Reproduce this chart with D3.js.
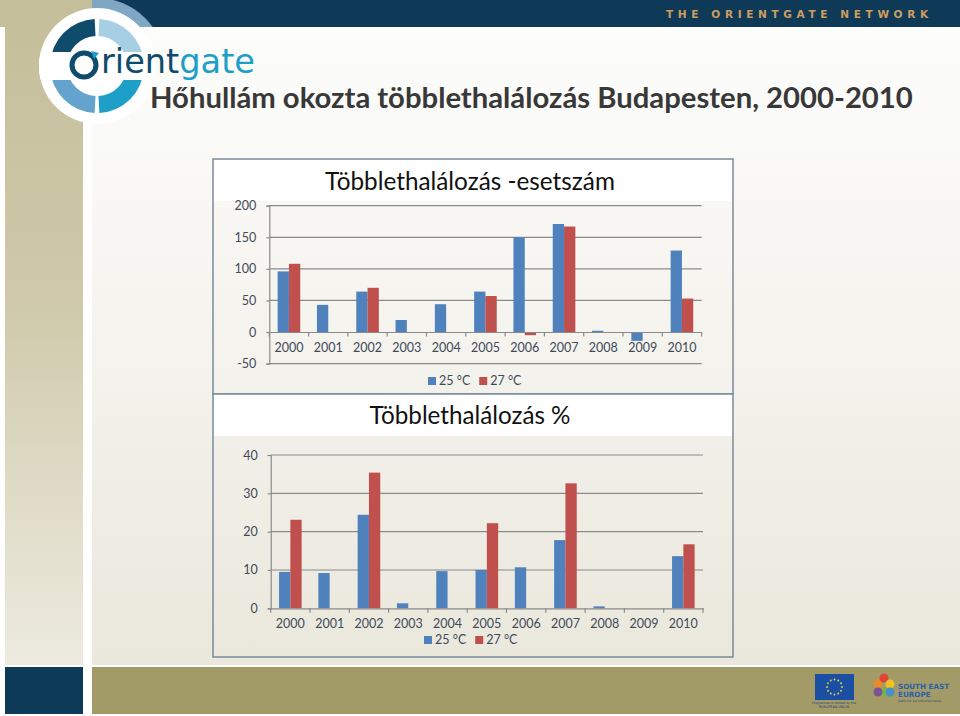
<!DOCTYPE html>
<html>
<head>
<meta charset="utf-8">
<script src="https://cdn.jsdelivr.net/npm/d3@7"></script>
<style>
html,body{margin:0;padding:0;background:#fff;}
svg{display:block;}
</style>
</head>
<body>
<svg id="c" width="960" height="716"></svg>
<script>
// ---------- DATA ----------
const years = ["2000","2001","2002","2003","2004","2005","2006","2007","2008","2009","2010"];
const seriesNames = ["25 °C","27 °C"];
const cases25 = [96, 43, 64, 19, 44, 64, 150, 171, 2, -14, 129];
const cases27 = [108, null, 70, null, null, 57, -5, 167, null, null, 53];
const pct25 = [9.5, 9.2, 24.4, 1.3, 9.7, 10.0, 10.7, 17.8, 0.5, null, 13.6];
const pct27 = [23.1, null, 35.4, null, null, 22.2, null, 32.6, null, null, 16.7];
const ticksCases = [-50, 0, 50, 100, 150, 200];
const ticksPct = [0, 10, 20, 30, 40];
const mainTitle = "Hőhullám okozta többlethalálozás Budapesten, 2000-2010";
const title1 = "Többlethalálozás -esetszám";
const title2 = "Többlethalálozás %";
const network = "THE ORIENTGATE NETWORK";

const COLORS = ["#4f81bd", "#c0504d"];
const FONT = "Lato, 'Open Sans', sans-serif";

const svg = d3.select("#c");
const defs = svg.append("defs");

function fitText(sel, width) {
  const fs = parseFloat(sel.attr("font-size"));
  const w = sel.node().getComputedTextLength();
  sel.attr("font-size", (fs * width / w).toFixed(2));
}

// ---------- BACKGROUND ----------
const gBg = defs.append("linearGradient").attr("id","bg").attr("x1",0).attr("y1",0).attr("x2",0).attr("y2",1);
gBg.append("stop").attr("offset","0%").attr("stop-color","#fdfdfc");
gBg.append("stop").attr("offset","45%").attr("stop-color","#f5f4ef");
gBg.append("stop").attr("offset","100%").attr("stop-color","#eae8dc");
const gStrip = defs.append("linearGradient").attr("id","strip").attr("x1",0).attr("y1",0).attr("x2",0).attr("y2",1);
gStrip.append("stop").attr("offset","0%").attr("stop-color","#c5be9a");
gStrip.append("stop").attr("offset","45%").attr("stop-color","#cfc9aa");
gStrip.append("stop").attr("offset","100%").attr("stop-color","#edebe0");

svg.append("rect").attr("x",0).attr("y",0).attr("width",960).attr("height",716).attr("fill","#ffffff");
svg.append("rect").attr("x",92).attr("y",27).attr("width",868).attr("height",638).attr("fill","url(#bg)");
svg.append("rect").attr("x",5).attr("y",0).attr("width",78).attr("height",665).attr("fill","url(#strip)");
svg.append("rect").attr("x",0).attr("y",0).attr("width",92).attr("height",27).attr("fill","#c5be9a");
svg.append("rect").attr("x",92).attr("y",0).attr("width",868).attr("height",27).attr("fill","#0e3a58");

// bottom bars
svg.append("rect").attr("x",5).attr("y",667).attr("width",78).attr("height",47).attr("fill","#0d3a57");
svg.append("rect").attr("x",92).attr("y",667).attr("width",868).attr("height",47).attr("fill","#a29b68");

// network text
const nt = svg.append("text").attr("x",666).attr("y",18).attr("font-family","'DejaVu Sans', sans-serif")
  .attr("font-weight","bold").attr("font-size",10.5).attr("letter-spacing","0px")
  .attr("fill","#d09d5e").text(network);
{
  const w0 = nt.node().getComputedTextLength();
  const ls = (262 - w0) / (network.length - 1);
  nt.attr("letter-spacing", ls.toFixed(2) + "px");
}

// ---------- LOGO ----------
const cx = 97, cy = 66;
defs.append("clipPath").attr("id","bandclip").append("rect").attr("x",92).attr("y",0).attr("width",100).attr("height",27);
svg.append("circle").attr("cx",cx).attr("cy",cy).attr("r",68).attr("fill","#7fa6c2").attr("clip-path","url(#bandclip)");
svg.append("circle").attr("cx",cx).attr("cy",cy).attr("r",58).attr("fill","#ffffff");
const arc = d3.arc().innerRadius(30).outerRadius(47);
const quads = [
  {a0:-Math.PI/2, a1:0, c:"#0f4c6c"},
  {a0:0, a1:Math.PI/2, c:"#a6cfe4"},
  {a0:Math.PI/2, a1:Math.PI, c:"#1d9fc7"},
  {a0:Math.PI, a1:1.5*Math.PI, c:"#63a3cd"}
];
const lg = svg.append("g").attr("transform",`translate(${cx},${cy})`);
quads.forEach(q => {
  lg.append("path").attr("d", arc({startAngle:q.a0+0.05, endAngle:q.a1-0.05})).attr("fill", q.c);
});
defs.append("clipPath").attr("id","logoclip").append("circle").attr("cx",cx).attr("cy",cy).attr("r",58);
svg.append("rect").attr("x",cx-60).attr("y",52).attr("width",120).attr("height",28)
  .attr("fill","#ffffff").attr("clip-path","url(#logoclip)");
// "O" ring with arrow
svg.append("circle").attr("cx",84).attr("cy",65).attr("r",12).attr("fill","none").attr("stroke","#0f4c6c").attr("stroke-width",5);
svg.append("path").attr("d","M 91 51 L 99 53 L 94 59 Z").attr("fill","#1d9fc7");
const logoT = svg.append("text").attr("x",101).attr("y",73).attr("font-family","'DejaVu Sans', sans-serif")
  .attr("font-size",26);
logoT.append("tspan").attr("fill","#0f4c6c").text("rient");
logoT.append("tspan").attr("fill","#1d9fc7").text("gate");
fitText(logoT, 154);

// main title
const mt = svg.append("text").attr("x",150).attr("y",108).attr("font-family",FONT)
  .attr("font-weight","bold").attr("font-size",26).attr("fill","#383838").text(mainTitle);
fitText(mt, 763);

// ---------- FOOTER LOGOS ----------
svg.append("rect").attr("x",815).attr("y",674).attr("width",39).attr("height",26).attr("fill","#1b4fa3");
const starR = 7.5;
d3.range(12).forEach(i => {
  const a = i/12*2*Math.PI;
  svg.append("circle").attr("cx",834.5+starR*Math.cos(a)).attr("cy",687+starR*Math.sin(a)).attr("r",0.9).attr("fill","#f5d33a");
});
svg.append("text").attr("x",834).attr("y",704).attr("text-anchor","middle").attr("font-family","'DejaVu Sans'")
  .attr("font-size",3).attr("fill","#1b3f7a").text("Programme co-funded by the");
svg.append("text").attr("x",834).attr("y",708).attr("text-anchor","middle").attr("font-family","'DejaVu Sans'")
  .attr("font-size",3.3).attr("fill","#1b3f7a").text("EUROPEAN UNION");
const petals = [["#f08a24",878,684],["#e53b2f",884,678],["#f7c519",890,684],["#7ab648",884,692],["#7a4b9a",878,692],["#3d8fd1",890,692]];
petals.forEach(p => svg.append("circle").attr("cx",p[1]).attr("cy",p[2]).attr("r",4.5).attr("fill",p[0]).attr("opacity",0.9));
svg.append("text").attr("x",898).attr("y",689).attr("font-family","'DejaVu Sans'").attr("font-weight","bold")
  .attr("font-size",7.2).attr("fill","#2b5fa8").text("SOUTH EAST");
svg.append("text").attr("x",898).attr("y",697).attr("font-family","'DejaVu Sans'").attr("font-weight","bold")
  .attr("font-size",7.2).attr("fill","#2b5fa8").text("EUROPE");
svg.append("text").attr("x",898).attr("y",702).attr("font-family","'DejaVu Sans'")
  .attr("font-size",3).attr("fill","#2b3f6a").text("paths for our common future");

// ---------- CHARTS ----------
function drawChart(cfg) {
  const g = svg.append("g");
  g.append("rect").attr("x",cfg.bx+1).attr("y",cfg.by).attr("width",cfg.bw-1).attr("height",cfg.titleH).attr("fill","#ffffff");
  g.append("rect").attr("x",cfg.bx).attr("y",cfg.by).attr("width",cfg.bw).attr("height",cfg.bh)
    .attr("fill","none").attr("stroke","#7b8a9a").attr("stroke-width",1.5);
  const t = g.append("text").attr("x",cfg.titleX).attr("y",cfg.titleY).attr("text-anchor","middle")
    .attr("font-family",FONT).attr("font-size",22).attr("fill","#111").text(cfg.title);
  fitText(t, cfg.titleW);

  const y = d3.scaleLinear().domain(cfg.yDomain).range(cfg.yRange);
  const x = d3.scaleBand().domain(years).range(cfg.xRange).paddingInner(0).paddingOuter(0);
  // two-bar group occupies the middle 57.5% of each category
  const grp = d3.scaleBand().domain([0,1]).range([x.bandwidth()*0.2125, x.bandwidth()*0.7875]);

  cfg.ticks.filter(v => v !== 0).forEach(v => {
    g.append("line").attr("x1",cfg.xRange[0]).attr("x2",cfg.xRange[1]).attr("y1",y(v)).attr("y2",y(v))
      .attr("stroke","#8a8a8a").attr("stroke-width",1.2);
  });

  [cfg.s1, cfg.s2].forEach((s, si) => {
    g.selectAll(null).data(years.map((yr,i)=>({yr, v:s[i]})).filter(d => d.v !== null))
      .enter().append("rect")
      .attr("x", d => x(d.yr) + grp(si))
      .attr("width", grp.bandwidth())
      .attr("y", d => Math.min(y(d.v), y(0)))
      .attr("height", d => Math.abs(y(d.v) - y(0)))
      .attr("fill", COLORS[si]);
  });

  const yAx = d3.axisLeft(y).tickValues(cfg.ticks).tickSize(3).tickPadding(10).tickFormat(d => String(d));
  const ya = g.append("g").attr("transform",`translate(${cfg.xRange[0]},0)`).call(yAx);
  ya.select(".domain").attr("stroke","#8a8a8a").attr("stroke-width",1.2);
  ya.selectAll(".tick line").attr("stroke","#8a8a8a").attr("stroke-width",1.2);
  ya.selectAll(".tick text").attr("font-family",FONT).attr("font-size",12.5).attr("fill","#3f4a5a");

  const xAx = d3.axisBottom(x).tickSize(0).tickPadding(cfg.xPad);
  const xa = g.append("g").attr("transform",`translate(0,${y(0)})`).call(xAx);
  xa.select(".domain").attr("stroke","#8a8a8a").attr("stroke-width",1.2);
  xa.selectAll(".tick text").attr("font-family",FONT).attr("font-size",12.5).attr("fill","#3f4a5a");
  const bounds = years.map(yr => x(yr)).concat([cfg.xRange[1]]);
  xa.selectAll(null).data(bounds).enter().append("line")
    .attr("x1", d => d).attr("x2", d => d).attr("y1", 0).attr("y2", 4.5)
    .attr("stroke","#8a8a8a").attr("stroke-width",1.2);

  const lgd = g.append("g");
  let lx = cfg.legendX;
  seriesNames.forEach((n, i) => {
    lgd.append("rect").attr("x",lx).attr("y",cfg.legendY-4).attr("width",8).attr("height",8).attr("fill",COLORS[i]);
    const tx = lgd.append("text").attr("x",lx+11).attr("y",cfg.legendY+4.3).attr("font-family",FONT)
      .attr("font-size",12.5).attr("fill","#3f4a5a").text(n);
    lx = lx + 11 + tx.node().getComputedTextLength() + 9;
  });
}

drawChart({
  bx:213, by:159, bw:520, bh:235, titleH:42,
  title:title1, titleX:470, titleY:190, titleW:290,
  yDomain:[-50,200], yRange:[363.6,205.7], xRange:[269.3,701.6],
  ticks:ticksCases, s1:cases25, s2:cases27, xPad:11, legendX:428, legendY:381
});
drawChart({
  bx:213, by:394, bw:520, bh:263, titleH:42,
  title:title2, titleX:470, titleY:424, titleW:201,
  yDomain:[0,40], yRange:[608.3,455], xRange:[270.7,703],
  ticks:ticksPct, s1:pct25, s2:pct27, xPad:11, legendX:424, legendY:640
});
</script>
</body>
</html>
